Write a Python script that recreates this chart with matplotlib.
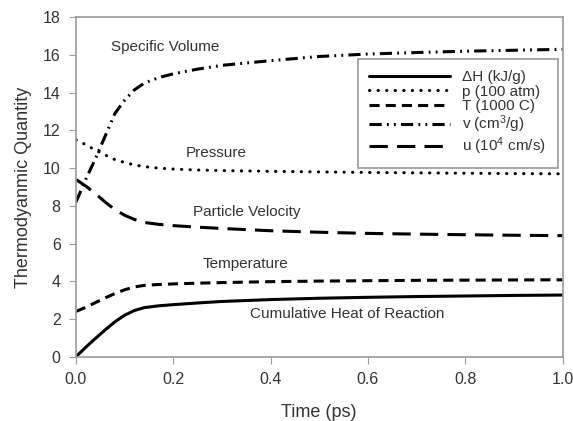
import numpy as np
import matplotlib
matplotlib.use('Agg')
import matplotlib.pyplot as plt

plt.rcParams['font.family'] = ['Liberation Sans', 'DejaVu Sans']
plt.rcParams['mathtext.default'] = 'regular'

# valores
tempo = [0, 0.02, 0.04, 0.06, 0.08, 0.1, 0.12, 0.14, 0.17, 0.2, 0.25, 0.3,
         0.4, 0.5, 0.6, 0.7, 0.8, 0.9, 1.0]
calor = [0, 0.5, 0.97, 1.42, 1.85, 2.2, 2.45, 2.6, 2.7, 2.76, 2.85, 2.93,
         3.03, 3.1, 3.15, 3.19, 3.22, 3.25, 3.27]
pressao = [11.5, 11.25, 10.95, 10.7, 10.45, 10.3, 10.17, 10.08, 10.0, 9.95,
           9.9, 9.87, 9.83, 9.8, 9.77, 9.75, 9.73, 9.71, 9.7]
temperatura = [2.4, 2.62, 2.87, 3.12, 3.35, 3.55, 3.7, 3.78, 3.83, 3.86,
               3.9, 3.93, 3.98, 4.01, 4.03, 4.05, 4.06, 4.07, 4.08]
volume = [8.2, 9.4, 10.5, 11.7, 12.9, 13.6, 14.15, 14.5, 14.8, 15.0, 15.25,
          15.45, 15.7, 15.92, 16.05, 16.13, 16.2, 16.25, 16.3]
velocidade = [9.4, 9.05, 8.65, 8.2, 7.8, 7.5, 7.28, 7.12, 7.02, 6.95, 6.87,
              6.8, 6.68, 6.6, 6.54, 6.5, 6.47, 6.44, 6.42]

rotulos = ['\u0394H (kJ/g)', 'p (100 atm)', 'T (1000 C)',
           'v (cm$^3$/g)', 'u (10$^4$ cm/s)']
anotacoes = ['Specific Volume', 'Pressure', 'Particle Velocity',
             'Temperature', 'Cumulative Heat of Reaction']
pos_anot = [(0.183, 16.4), (0.289, 10.8), (0.351, 7.7), (0.349, 4.9),
            (0.557, 2.25)]

cinza = '#333333'
borda = '#9a9a9a'
lw = 2.2

fig = plt.figure(figsize=(5.73, 4.21), dpi=100)
ax = fig.add_axes([0.1326, 0.1527, 0.8491, 0.8063])

ax.plot(tempo, calor, color='k', lw=lw, solid_capstyle='round', label=rotulos[0])
ax.plot(tempo, pressao, color='k', lw=lw, linestyle=(0, (0.1, 2.7)),
        dash_capstyle='round', label=rotulos[1])
ax.plot(tempo, temperatura, color='k', lw=lw, linestyle=(0, (3.3, 2.0)),
        label=rotulos[2])
ax.plot(tempo, volume, color='k', lw=lw,
        linestyle=(0, (4, 1.7, 0.6, 1.7, 0.6, 1.7)), label=rotulos[3])
ax.plot(tempo, velocidade, color='k', lw=lw, linestyle=(0, (6, 3)),
        label=rotulos[4])

for txt, (x, y) in zip(anotacoes, pos_anot):
    ax.text(x, y, txt, ha='center', va='center', fontsize=11, color=cinza)

ax.set_xlim(0, 1.0)
ax.set_ylim(0, 18)
ax.set_xticks(np.arange(0, 1.01, 0.2))
ax.set_xticklabels(['0.0', '0.2', '0.4', '0.6', '0.8', '1.0'])
ax.set_yticks(np.arange(0, 19, 2))
ax.tick_params(direction='out', length=5, color=borda, labelcolor=cinza,
               labelsize=11.5, pad=6)
for lado in ax.spines.values():
    lado.set_color(borda)
    lado.set_linewidth(1.2)

ax.set_xlabel('Time (ps)', fontsize=13, color=cinza, labelpad=12)
ax.set_ylabel('Thermodyanmic Quantity', fontsize=13, color=cinza, labelpad=8)

leg = ax.legend(loc='upper right', bbox_to_anchor=(0.9897, 0.877),
                fontsize=11, frameon=True, fancybox=False, handlelength=5.3,
                handletextpad=0.8, labelspacing=0.02, borderpad=0.75,
                borderaxespad=0, framealpha=1)
leg.get_frame().set_edgecolor(borda)
leg.get_frame().set_linewidth(1.2)
for t in leg.get_texts():
    t.set_color(cinza)

fig.savefig('out.png', dpi=100)
